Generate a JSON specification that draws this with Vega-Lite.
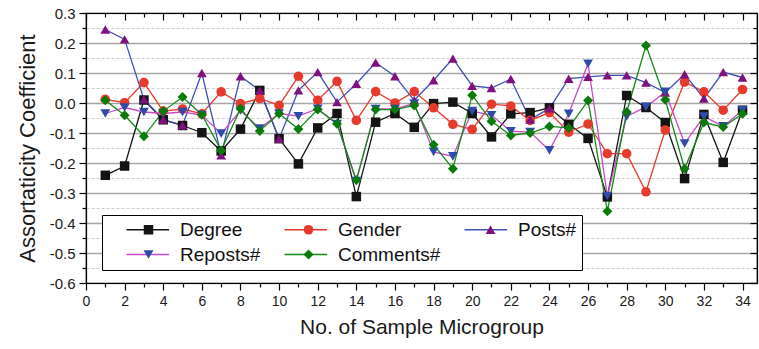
{
  "$schema": "https://vega.github.io/schema/vega-lite/v6.json",
  "autosize": {"type": "none"},
  "width": 671,
  "height": 270,
  "padding": {"left": 86, "top": 13, "right": 2, "bottom": 66},
  "background": "white",
  "config": {
    "font": "Liberation Sans",
    "view": {"stroke": "black", "strokeWidth": 1.2},
    "axis": {"domainColor": "black", "domainWidth": 1.2, "tickColor": "black", "tickWidth": 1.2, "labelColor": "#1a1a1a", "titleColor": "#1a1a1a", "titleFontWeight": "normal", "labelOverlap": false, "labelFlush": false}
  },
  "data": {"values": [
    {"s":"Degree","x":1,"y":-0.241},{"s":"Degree","x":2,"y":-0.21},{"s":"Degree","x":3,"y":0.01},{"s":"Degree","x":4,"y":-0.056},{"s":"Degree","x":5,"y":-0.075},{"s":"Degree","x":6,"y":-0.099},{"s":"Degree","x":7,"y":-0.16},{"s":"Degree","x":8,"y":-0.087},{"s":"Degree","x":9,"y":0.042},{"s":"Degree","x":10,"y":-0.119},{"s":"Degree","x":11,"y":-0.203},{"s":"Degree","x":12,"y":-0.083},{"s":"Degree","x":13,"y":-0.035},{"s":"Degree","x":14,"y":-0.312},{"s":"Degree","x":15,"y":-0.064},{"s":"Degree","x":16,"y":-0.035},{"s":"Degree","x":17,"y":-0.081},{"s":"Degree","x":18,"y":-0.002},{"s":"Degree","x":19,"y":0.003},{"s":"Degree","x":20,"y":-0.035},{"s":"Degree","x":21,"y":-0.113},{"s":"Degree","x":22,"y":-0.036},{"s":"Degree","x":23,"y":-0.032},{"s":"Degree","x":24,"y":-0.016},{"s":"Degree","x":25,"y":-0.071},{"s":"Degree","x":26,"y":-0.118},{"s":"Degree","x":27,"y":-0.313},{"s":"Degree","x":28,"y":0.025},{"s":"Degree","x":29,"y":-0.015},{"s":"Degree","x":30,"y":-0.065},{"s":"Degree","x":31,"y":-0.252},{"s":"Degree","x":32,"y":-0.038},{"s":"Degree","x":33,"y":-0.198},{"s":"Degree","x":34,"y":-0.024},
    {"s":"Gender","x":1,"y":0.012},{"s":"Gender","x":2,"y":0.001},{"s":"Gender","x":3,"y":0.068},{"s":"Gender","x":4,"y":-0.027},{"s":"Gender","x":5,"y":-0.02},{"s":"Gender","x":6,"y":-0.036},{"s":"Gender","x":7,"y":0.037},{"s":"Gender","x":8,"y":-0.002},{"s":"Gender","x":9,"y":0.015},{"s":"Gender","x":10,"y":-0.008},{"s":"Gender","x":11,"y":0.089},{"s":"Gender","x":12,"y":0.009},{"s":"Gender","x":13,"y":0.072},{"s":"Gender","x":14,"y":-0.058},{"s":"Gender","x":15,"y":0.038},{"s":"Gender","x":16,"y":0.0},{"s":"Gender","x":17,"y":0.038},{"s":"Gender","x":18,"y":-0.016},{"s":"Gender","x":19,"y":-0.071},{"s":"Gender","x":20,"y":-0.088},{"s":"Gender","x":21,"y":-0.004},{"s":"Gender","x":22,"y":-0.01},{"s":"Gender","x":23,"y":-0.058},{"s":"Gender","x":24,"y":-0.032},{"s":"Gender","x":25,"y":-0.097},{"s":"Gender","x":26,"y":-0.07},{"s":"Gender","x":27,"y":-0.169},{"s":"Gender","x":28,"y":-0.169},{"s":"Gender","x":29,"y":-0.296},{"s":"Gender","x":30,"y":-0.09},{"s":"Gender","x":31,"y":0.07},{"s":"Gender","x":32,"y":0.037},{"s":"Gender","x":33,"y":-0.024},{"s":"Gender","x":34,"y":0.045},
    {"s":"Posts#","x":1,"y":0.245},{"s":"Posts#","x":2,"y":0.212},{"s":"Posts#","x":3,"y":0.012},{"s":"Posts#","x":4,"y":-0.055},{"s":"Posts#","x":5,"y":-0.074},{"s":"Posts#","x":6,"y":0.1},{"s":"Posts#","x":7,"y":-0.174},{"s":"Posts#","x":8,"y":0.089},{"s":"Posts#","x":9,"y":0.042},{"s":"Posts#","x":10,"y":-0.119},{"s":"Posts#","x":11,"y":0.042},{"s":"Posts#","x":12,"y":0.103},{"s":"Posts#","x":13,"y":0.003},{"s":"Posts#","x":14,"y":0.064},{"s":"Posts#","x":15,"y":0.135},{"s":"Posts#","x":16,"y":0.089},{"s":"Posts#","x":17,"y":0.009},{"s":"Posts#","x":18,"y":0.076},{"s":"Posts#","x":19,"y":0.148},{"s":"Posts#","x":20,"y":0.057},{"s":"Posts#","x":21,"y":0.05},{"s":"Posts#","x":22,"y":0.08},{"s":"Posts#","x":23,"y":-0.055},{"s":"Posts#","x":24,"y":-0.018},{"s":"Posts#","x":25,"y":0.081},{"s":"Posts#","x":26,"y":0.087},{"s":"Posts#","x":27,"y":0.092},{"s":"Posts#","x":28,"y":0.092},{"s":"Posts#","x":29,"y":0.068},{"s":"Posts#","x":30,"y":0.035},{"s":"Posts#","x":31,"y":0.096},{"s":"Posts#","x":32,"y":0.015},{"s":"Posts#","x":33,"y":0.103},{"s":"Posts#","x":34,"y":0.085},
    {"s":"Reposts#","x":1,"y":-0.035},{"s":"Reposts#","x":2,"y":-0.015},{"s":"Reposts#","x":3,"y":-0.03},{"s":"Reposts#","x":4,"y":-0.035},{"s":"Reposts#","x":5,"y":-0.03},{"s":"Reposts#","x":6,"y":-0.04},{"s":"Reposts#","x":7,"y":-0.102},{"s":"Reposts#","x":8,"y":-0.025},{"s":"Reposts#","x":9,"y":-0.085},{"s":"Reposts#","x":10,"y":-0.035},{"s":"Reposts#","x":11,"y":-0.044},{"s":"Reposts#","x":12,"y":-0.019},{"s":"Reposts#","x":13,"y":-0.07},{"s":"Reposts#","x":14,"y":-0.26},{"s":"Reposts#","x":15,"y":-0.02},{"s":"Reposts#","x":16,"y":-0.02},{"s":"Reposts#","x":17,"y":-0.002},{"s":"Reposts#","x":18,"y":-0.163},{"s":"Reposts#","x":19,"y":-0.178},{"s":"Reposts#","x":20,"y":-0.027},{"s":"Reposts#","x":21,"y":-0.041},{"s":"Reposts#","x":22,"y":-0.094},{"s":"Reposts#","x":23,"y":-0.097},{"s":"Reposts#","x":24,"y":-0.158},{"s":"Reposts#","x":25,"y":-0.036},{"s":"Reposts#","x":26,"y":0.131},{"s":"Reposts#","x":27,"y":-0.31},{"s":"Reposts#","x":28,"y":-0.045},{"s":"Reposts#","x":29,"y":-0.013},{"s":"Reposts#","x":30,"y":0.037},{"s":"Reposts#","x":31,"y":-0.135},{"s":"Reposts#","x":32,"y":-0.045},{"s":"Reposts#","x":33,"y":-0.078},{"s":"Reposts#","x":34,"y":-0.024},
    {"s":"Comments#","x":1,"y":0.009},{"s":"Comments#","x":2,"y":-0.041},{"s":"Comments#","x":3,"y":-0.111},{"s":"Comments#","x":4,"y":-0.027},{"s":"Comments#","x":5,"y":0.02},{"s":"Comments#","x":6,"y":-0.039},{"s":"Comments#","x":7,"y":-0.158},{"s":"Comments#","x":8,"y":-0.019},{"s":"Comments#","x":9,"y":-0.093},{"s":"Comments#","x":10,"y":-0.035},{"s":"Comments#","x":11,"y":-0.087},{"s":"Comments#","x":12,"y":-0.022},{"s":"Comments#","x":13,"y":-0.069},{"s":"Comments#","x":14,"y":-0.257},{"s":"Comments#","x":15,"y":-0.022},{"s":"Comments#","x":16,"y":-0.022},{"s":"Comments#","x":17,"y":-0.008},{"s":"Comments#","x":18,"y":-0.139},{"s":"Comments#","x":19,"y":-0.219},{"s":"Comments#","x":20,"y":0.026},{"s":"Comments#","x":21,"y":-0.061},{"s":"Comments#","x":22,"y":-0.108},{"s":"Comments#","x":23,"y":-0.1},{"s":"Comments#","x":24,"y":-0.078},{"s":"Comments#","x":25,"y":-0.083},{"s":"Comments#","x":26,"y":0.008},{"s":"Comments#","x":27,"y":-0.361},{"s":"Comments#","x":28,"y":-0.03},{"s":"Comments#","x":29,"y":0.192},{"s":"Comments#","x":30,"y":0.011},{"s":"Comments#","x":31,"y":-0.219},{"s":"Comments#","x":32,"y":-0.065},{"s":"Comments#","x":33,"y":-0.08},{"s":"Comments#","x":34,"y":-0.036}
  ]},
  "layer": [
    {
      "mark": {"type": "line", "strokeWidth": 1.3},
      "encoding": {
        "x": {"field": "x", "type": "quantitative", "scale": {"domain": [0, 34.75], "nice": false, "zero": false},
          "axis": {"orient": "bottom", "title": "No. of Sample Microgroup", "titleFontSize": 21, "titlePadding": 8,
            "values": [0,1,2,3,4,5,6,7,8,9,10,11,12,13,14,15,16,17,18,19,20,21,22,23,24,25,26,27,28,29,30,31,32,33,34],
            "labelExpr": "datum.value % 2 === 0 ? datum.label : ''",
            "tickSize": {"condition": {"test": "datum.value % 2 === 0", "value": 7}, "value": 4},
            "labelFontSize": 14, "labelPadding": 4, "grid": false}},
        "y": {"field": "y", "type": "quantitative", "scale": {"domain": [-0.6, 0.3], "nice": false, "zero": false},
          "axis": {"orient": "left", "title": "Assortaticity Coefficient", "titleFontSize": 22, "titlePadding": 10,
            "values": [-0.6,-0.55,-0.5,-0.45,-0.4,-0.35,-0.3,-0.25,-0.2,-0.15,-0.1,-0.05,0,0.05,0.1,0.15,0.2,0.25,0.3],
            "labelExpr": "abs(datum.value*10-round(datum.value*10))<0.01 ? replace(format(datum.value,'.1f'),'\u2212','-') : ''",
            "tickSize": {"condition": {"test": "abs(datum.value*10-round(datum.value*10))<0.01", "value": 7}, "value": 4},
            "labelFontSize": 15, "labelPadding": 4,
            "grid": true,
            "gridColor": {"condition": {"test": "abs(datum.value*10-round(datum.value*10))<0.01", "value": "#a6a6a6"}, "value": "#cccccc"},
            "gridDash": {"condition": {"test": "abs(datum.value*10-round(datum.value*10))<0.01", "value": []}, "value": [3, 2]},
            "gridWidth": {"condition": {"test": "abs(datum.value*10-round(datum.value*10))<0.01", "value": 1.4}, "value": 1}}},
        "stroke": {"field": "s", "type": "nominal",
          "sort": ["Degree","Gender","Posts#","Reposts#","Comments#"],
          "scale": {"range": ["#141414","#e53a2c","#3f50b8","#c94ac9","#138a13"]},
          "legend": {"orient": "none", "legendX": 16, "legendY": 202, "direction": "horizontal", "columns": 3, "title": null,
            "labelFontSize": 19, "labelColor": "#111111", "symbolType": "M-1,0H6.1", "symbolSize": 144, "symbolStrokeWidth": 1.3, "symbolOpacity": 1,
            "symbolOffset": 16, "labelOffset": 38, "columnPadding": 4, "rowPadding": 5, "padding": 5,
            "strokeColor": "black", "fillColor": "white", "cornerRadius": 0, "gridAlign": "each"}},
        "detail": {"field": "s"}
      }
    },
    {
      "mark": {"type": "point", "filled": true, "opacity": 1, "strokeWidth": 0},
      "encoding": {
        "x": {"field": "x", "type": "quantitative", "scale": {"domain": [0, 34.75], "nice": false, "zero": false},
          "axis": {"orient": "top", "title": null, "labels": false, "grid": false,
            "values": [0,1,2,3,4,5,6,7,8,9,10,11,12,13,14,15,16,17,18,19,20,21,22,23,24,25,26,27,28,29,30,31,32,33,34],
            "tickSize": {"condition": {"test": "datum.value % 2 === 0", "value": -7}, "value": -4}}},
        "y": {"field": "y", "type": "quantitative", "scale": {"domain": [-0.6, 0.3], "nice": false, "zero": false},
          "axis": {"orient": "right", "title": null, "labels": false, "grid": false,
            "values": [-0.6,-0.55,-0.5,-0.45,-0.4,-0.35,-0.3,-0.25,-0.2,-0.15,-0.1,-0.05,0,0.05,0.1,0.15,0.2,0.25,0.3],
            "tickSize": {"condition": {"test": "abs(datum.value*10-round(datum.value*10))<0.01", "value": -7}, "value": -4}}},
        "fill": {"field": "s", "type": "nominal",
          "scale": {"domain": ["Degree","Gender","Posts#","Reposts#","Comments#"], "range": ["#141414","#e53a2c","#7f117f","#2f4aa8","#0a7a0a"]},
          "legend": {"orient": "none", "legendX": 16, "legendY": 202, "direction": "horizontal", "columns": 3, "title": null,
            "labelFontSize": 19, "labelOpacity": 0, "symbolStrokeWidth": 0, "symbolOpacity": 1,
            "symbolOffset": 32, "labelOffset": 24, "columnPadding": 4, "rowPadding": 5, "padding": 5,
            "cornerRadius": 0, "gridAlign": "each"}},
        "shape": {"field": "s", "type": "nominal",
          "scale": {"domain": ["Degree","Gender","Posts#","Reposts#","Comments#"], "range": ["square","circle","triangle-up","triangle-down","diamond"]},
          "legend": {"orient": "none", "legendX": 16, "legendY": 202, "direction": "horizontal", "columns": 3, "title": null,
            "labelFontSize": 19, "labelOpacity": 0, "symbolStrokeWidth": 0, "symbolOpacity": 1,
            "symbolOffset": 32, "labelOffset": 24, "columnPadding": 4, "rowPadding": 5, "padding": 5,
            "cornerRadius": 0, "gridAlign": "each"}},
        "size": {"field": "s", "type": "nominal",
          "scale": {"domain": ["Degree","Gender","Posts#","Reposts#","Comments#"], "range": [90, 100, 130, 130, 125]},
          "legend": {"orient": "none", "legendX": 16, "legendY": 202, "direction": "horizontal", "columns": 3, "title": null,
            "labelFontSize": 19, "labelOpacity": 0, "symbolStrokeWidth": 0, "symbolOpacity": 1,
            "symbolOffset": 32, "labelOffset": 24, "columnPadding": 4, "rowPadding": 5, "padding": 5,
            "cornerRadius": 0, "gridAlign": "each"}}
      }
    }
  ],
  "resolve": {"axis": {"x": "independent", "y": "independent"}}
}
